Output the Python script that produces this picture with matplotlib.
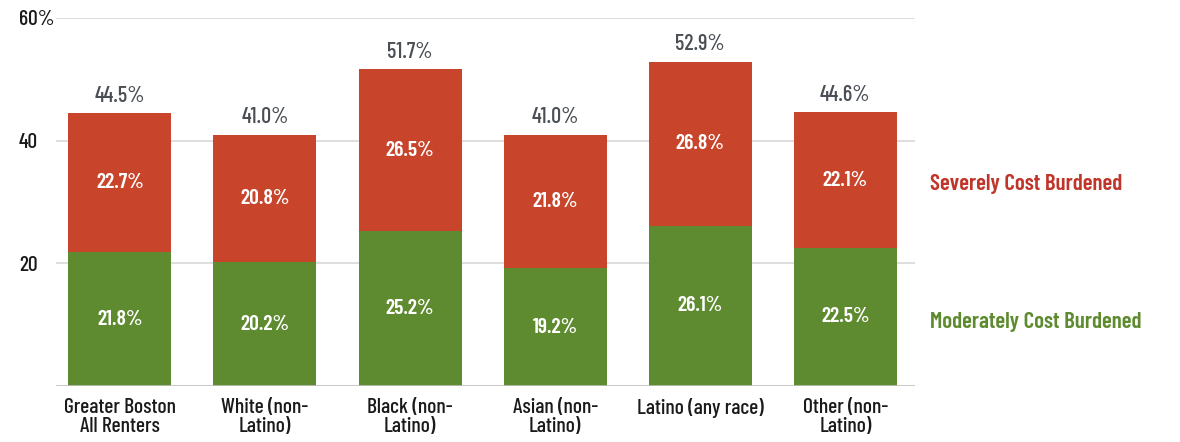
import matplotlib
matplotlib.use("Agg")
import matplotlib.pyplot as plt
import matplotlib.transforms as mtransforms

plt.rcParams['font.family'] = ['Barlow Condensed', 'DejaVu Sans']

# renters by group: share moderately / severely cost burdened (%)
groups = ['Greater Boston\nAll Renters', 'White (non-\nLatino)', 'Black (non-\nLatino)',
          'Asian (non-\nLatino)', 'Latino (any race)', 'Other (non-\nLatino)']
moderate = [21.8, 20.2, 25.2, 19.2, 26.1, 22.5]
severe = [22.7, 20.8, 26.5, 21.8, 26.8, 22.1]
totals = [44.5, 41.0, 51.7, 41.0, 52.9, 44.6]
yticks = [20, 40, 60]
ytick_labels = ['20', '40', '60%']

red = '#c8452c'
green = '#5e8b2f'

W, H = 1180, 442
fig = plt.figure(figsize=(W / 100, H / 100), dpi=100)
ax = fig.add_axes([56 / W, (H - 386) / H, (915 - 56) / W, (386 - 18) / H])

x = list(range(len(groups)))
w = 0.71

# gridlines behind the bars
for t in yticks:
    ax.axhline(t, color='#d8d8d8', lw=1.2, zorder=0)
ax.axhline(0, color='#bfbfbf', lw=1.2, zorder=3)

ax.bar(x, moderate, width=w, color=green, zorder=2)
ax.bar(x, severe, width=w, bottom=moderate, color=red, zorder=2)

for i in x:
    ax.text(i, moderate[i] / 2, f'{moderate[i]:.1f}%', ha='center', va='center',
            color='white', fontsize=15.5, fontweight=600, zorder=4)
    ax.text(i, moderate[i] + severe[i] / 2, f'{severe[i]:.1f}%', ha='center', va='center',
            color='white', fontsize=15.5, fontweight=600, zorder=4)
    ax.text(i, totals[i] + 1.2, f'{totals[i]:.1f}%', ha='center', va='bottom',
            color='#4a4f55', fontsize=16, fontweight=500, zorder=4)
    ax.text(i, -1.9, groups[i], ha='center', va='top', color='#1a1a1a',
            fontsize=15.5, fontweight=500, linespacing=1.0)

# y labels on the left margin
trans = mtransforms.blended_transform_factory(fig.transFigure, ax.transData)
for t, lab in zip(yticks, ytick_labels):
    ax.text(19 / W, t - 0.3, lab, transform=trans, ha='left', va='center',
            color='#1a1a1a', fontsize=15.5, fontweight=500)

# series labels at the right
ax.text(930 / W, 1 - 184 / H, 'Severely Cost Burdened', transform=fig.transFigure,
        ha='left', va='center', color='#c0352a', fontsize=16.5, fontweight=600)
ax.text(930 / W, 1 - 322 / H, 'Moderately Cost Burdened', transform=fig.transFigure,
        ha='left', va='center', color='#5e8b2f', fontsize=16.5, fontweight=600)

ax.set_xlim(-0.44, 5.48)
ax.set_ylim(0, 60)
ax.axis('off')

fig.savefig('out.png', dpi=100, facecolor='white')
